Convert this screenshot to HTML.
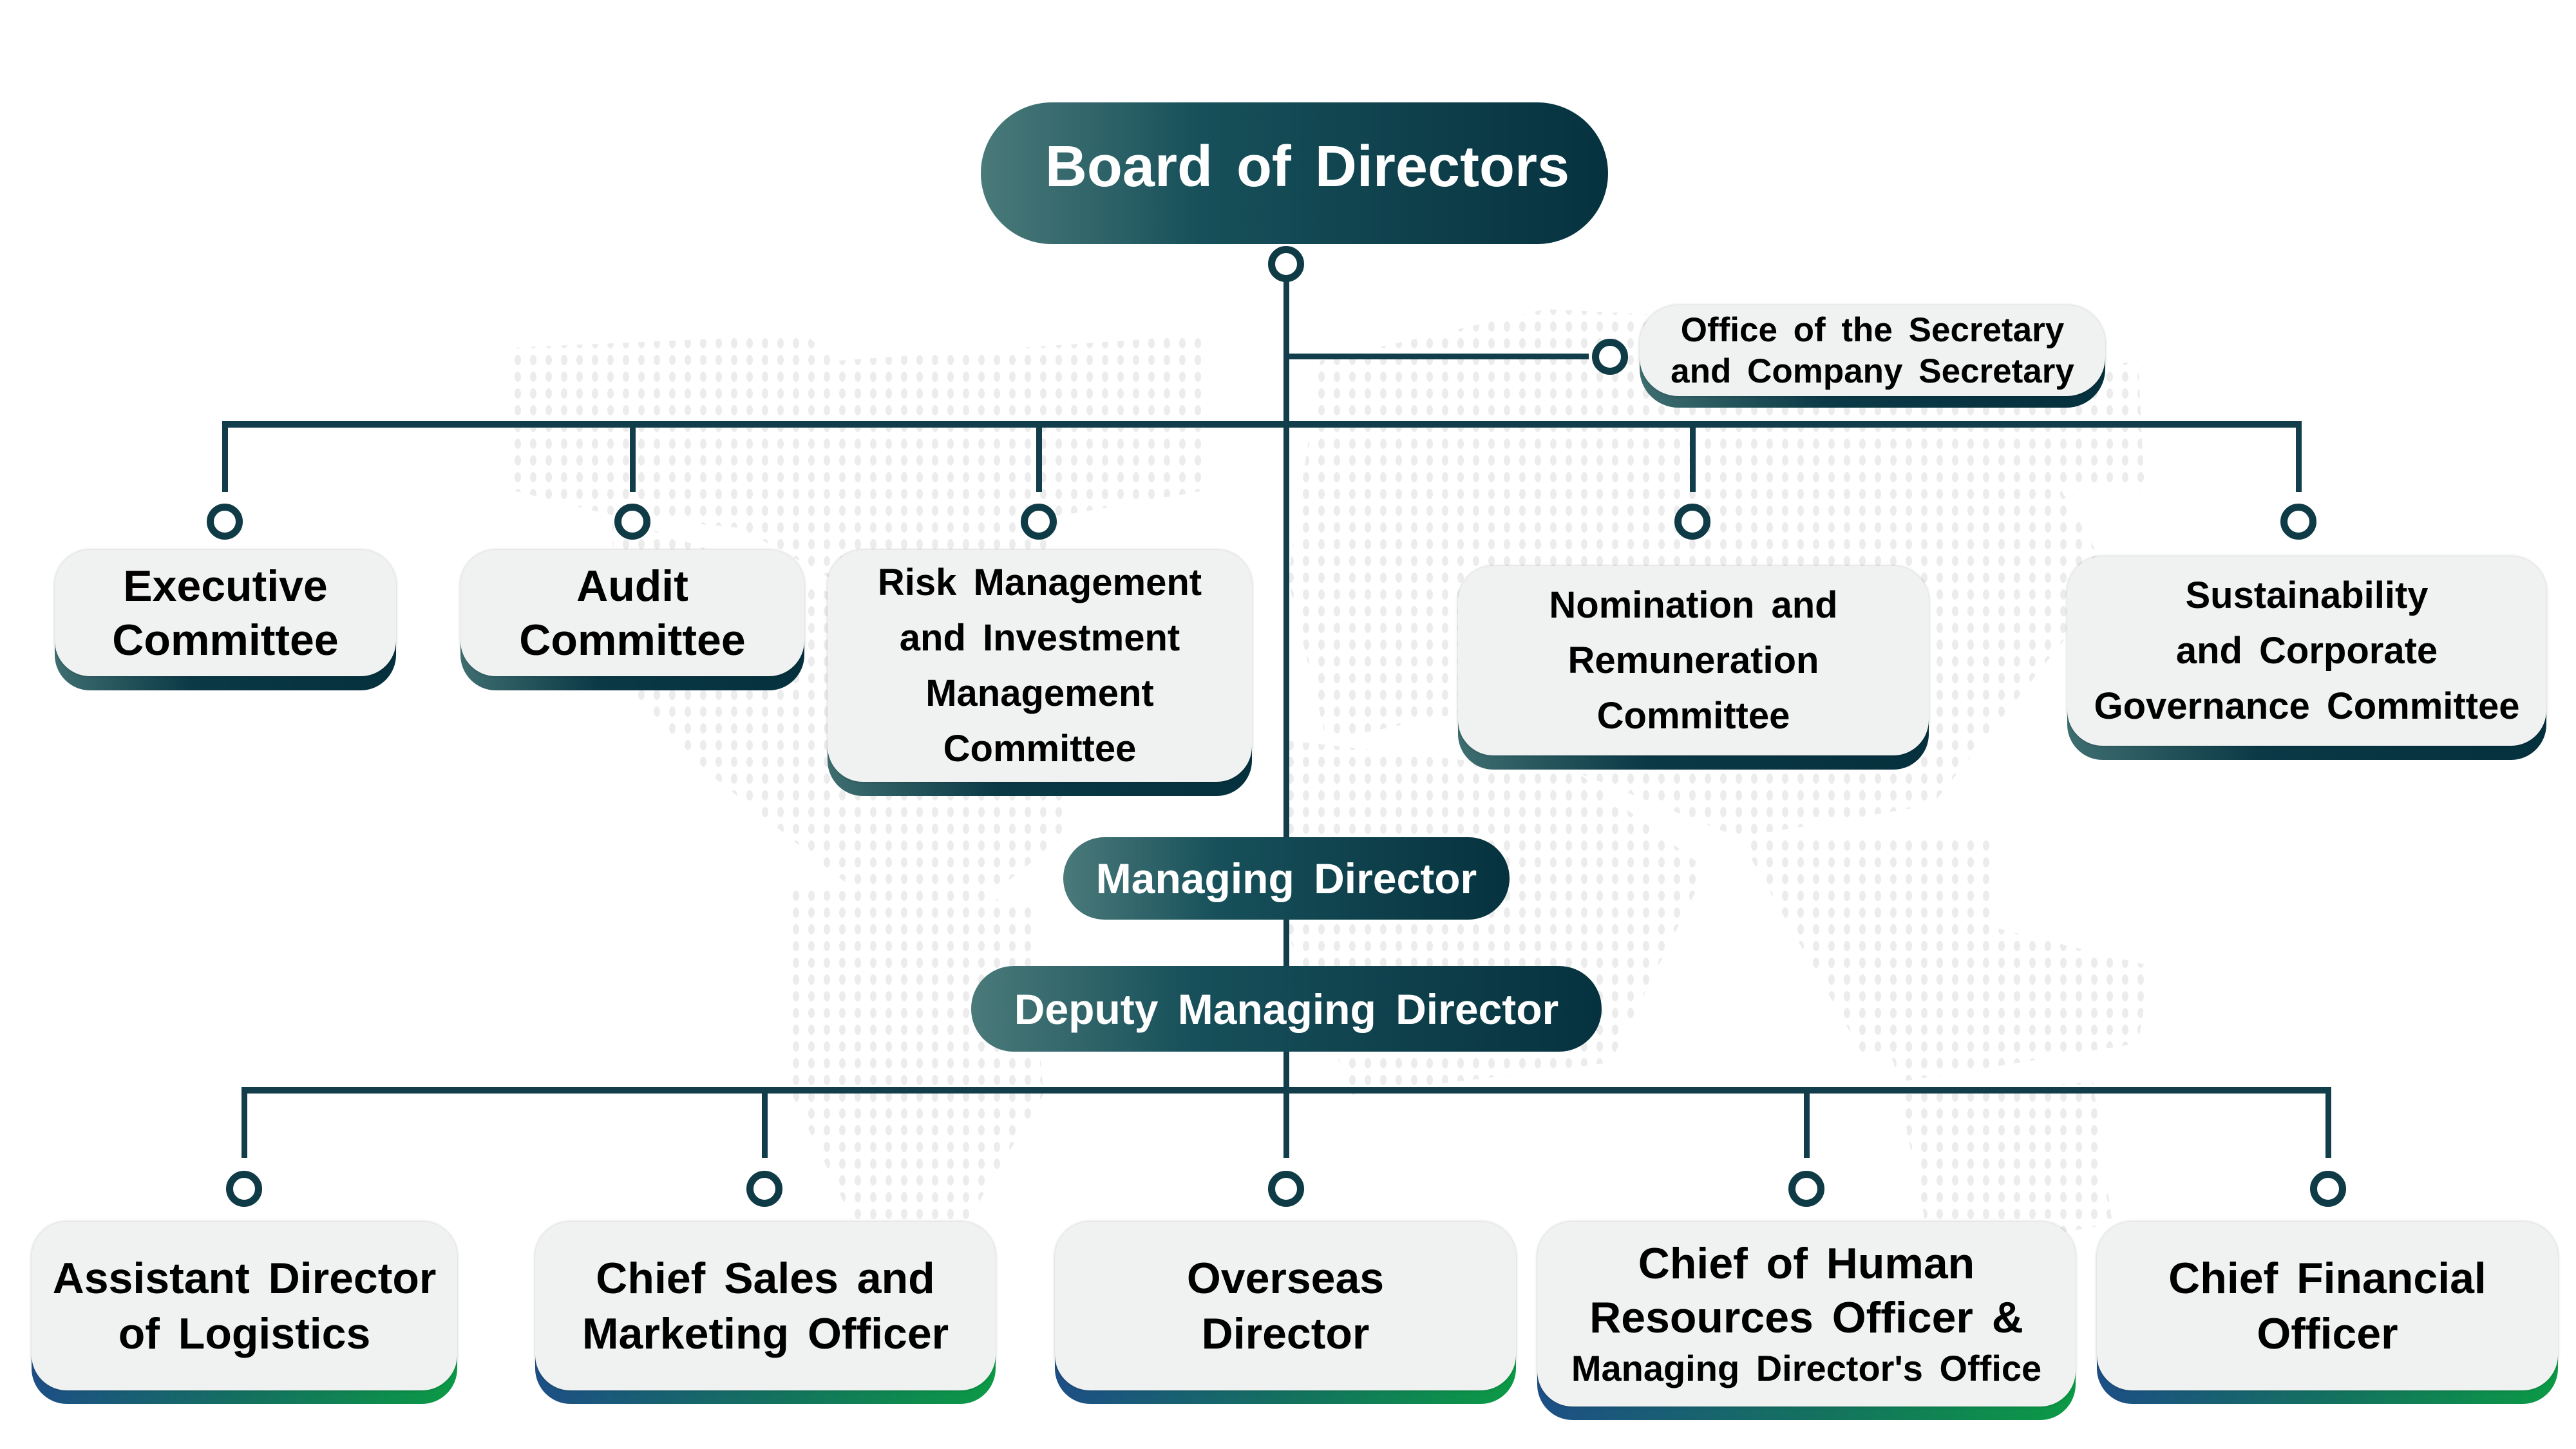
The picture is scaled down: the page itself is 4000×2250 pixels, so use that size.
<!DOCTYPE html>
<html><head><meta charset="utf-8"><style>
html,body{margin:0;padding:0}
body{width:4000px;height:2250px;position:relative;background:#fff;overflow:hidden;font-family:"Liberation Sans","DejaVu Sans",sans-serif;font-weight:bold}
.a{position:absolute}
.line{position:absolute;background:#113e4a}
.dot{position:absolute;width:34px;height:34px;border:11px solid #0f3b47;border-radius:50%;background:#fff;transform:translate(-50%,-50%)}
.sh{position:absolute;border-radius:55px}
.bx{position:absolute;border-radius:55px;background:#f0f2f1;box-shadow:0 0 4px rgba(0,0,0,.25);display:flex;align-items:center;justify-content:center;text-align:center;color:#000;word-spacing:10px}
.pill{position:absolute;display:flex;align-items:center;justify-content:center;color:#fff;background:linear-gradient(90deg,#4a7a7a 0%,#17505a 35%,#06323f 100%);word-spacing:12px}
.t{background:linear-gradient(90deg,#3e6e70,#0b3946 40%,#05303d)}
.b{background:linear-gradient(90deg,#1d4f86,#147060 50%,#0b9a45)}
</style></head><body>
<svg class="a" style="left:0;top:0" width="4000" height="2250">
<defs><pattern id="p" width="24" height="26" patternUnits="userSpaceOnUse"><ellipse cx="12" cy="13" rx="5" ry="8" fill="#ececec"/></pattern></defs>
<g fill="url(#p)">
<polygon points="790,540 1250,520 1300,560 1870,520 1880,760 1650,800 1600,900 1400,960 1150,820 950,800 790,760"/>
<polygon points="950,800 1400,960 1650,1100 1650,1300 1500,1420 1350,1400 1100,1200 960,1050"/>
<polygon points="1230,1380 1600,1400 1620,1700 1500,1900 1350,1950 1230,1700"/>
<polygon points="2050,560 2400,480 3200,520 3200,760 3280,900 3000,1250 2700,1300 2450,1200 2300,1100 2060,1150 2000,900"/>
<polygon points="2000,1150 2450,1200 2650,1350 2500,1650 2100,1700 2000,1450"/>
<polygon points="2700,1300 3100,1300 3080,1550 2900,1650"/>
<polygon points="2850,1380 3340,1500 3320,1620 2950,1680"/>
<polygon points="2950,1700 3250,1680 3280,1900 3000,1950"/>
<polygon points="3200,580 3320,560 3330,760 3200,760"/>
</g></svg>

<div class="line" style="left:1993px;top:430px;width:9px;height:1262px"></div>
<div class="line" style="left:1997px;top:549px;width:470px;height:9px"></div>
<div class="line" style="left:345px;top:654px;width:3228px;height:10px"></div>
<div class="line" style="left:345px;top:654px;width:9px;height:110px"></div>
<div class="line" style="left:978px;top:654px;width:9px;height:110px"></div>
<div class="line" style="left:1609px;top:654px;width:9px;height:110px"></div>
<div class="line" style="left:2624px;top:654px;width:9px;height:110px"></div>
<div class="line" style="left:3565px;top:654px;width:9px;height:110px"></div>
<div class="line" style="left:375px;top:1688px;width:3244px;height:10px"></div>
<div class="line" style="left:375px;top:1688px;width:9px;height:110px"></div>
<div class="line" style="left:1183px;top:1688px;width:9px;height:110px"></div>
<div class="line" style="left:1993px;top:1688px;width:9px;height:110px"></div>
<div class="line" style="left:2801px;top:1688px;width:9px;height:110px"></div>
<div class="line" style="left:3611px;top:1688px;width:9px;height:110px"></div>

<div class="dot" style="left:1997px;top:410px"></div>
<div class="dot" style="left:2500px;top:554px"></div>
<div class="dot" style="left:349px;top:810px"></div>
<div class="dot" style="left:982px;top:810px"></div>
<div class="dot" style="left:1613px;top:810px"></div>
<div class="dot" style="left:2628px;top:810px"></div>
<div class="dot" style="left:3569px;top:810px"></div>
<div class="dot" style="left:379px;top:1846px"></div>
<div class="dot" style="left:1187px;top:1846px"></div>
<div class="dot" style="left:1997px;top:1846px"></div>
<div class="dot" style="left:2805px;top:1846px"></div>
<div class="dot" style="left:3615px;top:1846px"></div>

<div class="pill" style="left:1523px;top:159px;width:974px;height:220px;border-radius:110px;font-size:90px;padding-left:40px;padding-bottom:20px;box-sizing:border-box">Board of Directors</div>

<div class="sh t" style="left:2546px;top:492px;width:723px;height:141px;border-radius:60px"></div>
<div class="bx" style="left:2546px;top:474px;width:723px;height:141px;border-radius:60px;font-size:53px;line-height:64px">Office of the Secretary<br>and Company Secretary</div>

<div class="sh t" style="left:85px;top:874px;width:530px;height:198px"></div>
<div class="bx" style="left:85px;top:854px;width:530px;height:196px;font-size:68px;line-height:84px">Executive<br>Committee</div>
<div class="sh t" style="left:715px;top:874px;width:534px;height:198px"></div>
<div class="bx" style="left:715px;top:854px;width:534px;height:196px;font-size:68px;line-height:84px">Audit<br>Committee</div>
<div class="sh t" style="left:1285px;top:874px;width:659px;height:362px"></div>
<div class="bx" style="left:1285px;top:854px;width:659px;height:360px;font-size:58px;line-height:86px">Risk Management<br>and Investment<br>Management<br>Committee</div>
<div class="sh t" style="left:2264px;top:899px;width:731px;height:296px"></div>
<div class="bx" style="left:2264px;top:879px;width:731px;height:294px;font-size:58px;line-height:86px">Nomination and<br>Remuneration<br>Committee</div>
<div class="sh t" style="left:3210px;top:884px;width:744px;height:296px"></div>
<div class="bx" style="left:3210px;top:864px;width:744px;height:294px;font-size:58px;line-height:86px">Sustainability<br>and Corporate<br>Governance Committee</div>

<div class="pill" style="left:1651px;top:1300px;width:693px;height:128px;border-radius:64px;font-size:66px">Managing Director</div>
<div class="pill" style="left:1508px;top:1500px;width:979px;height:133px;border-radius:66px;font-size:66px">Deputy Managing Director</div>

<div class="sh b" style="left:49px;top:1915px;width:661px;height:265px"></div>
<div class="bx" style="left:49px;top:1897px;width:661px;height:262px;font-size:68px;line-height:86px">Assistant Director<br>of Logistics</div>
<div class="sh b" style="left:831px;top:1915px;width:715px;height:265px"></div>
<div class="bx" style="left:831px;top:1897px;width:715px;height:262px;font-size:68px;line-height:86px">Chief Sales and<br>Marketing Officer</div>
<div class="sh b" style="left:1638px;top:1915px;width:716px;height:265px"></div>
<div class="bx" style="left:1638px;top:1897px;width:716px;height:262px;font-size:68px;line-height:86px">Overseas<br>Director</div>
<div class="sh b" style="left:2387px;top:1915px;width:836px;height:290px"></div>
<div class="bx" style="left:2387px;top:1897px;width:836px;height:287px;font-size:68px;line-height:84px;flex-direction:column">Chief of Human<br>Resources Officer &amp;<br><span style="font-size:56px;line-height:74px">Managing Director's Office</span></div>
<div class="sh b" style="left:3256px;top:1915px;width:716px;height:265px"></div>
<div class="bx" style="left:3256px;top:1897px;width:716px;height:262px;font-size:68px;line-height:86px">Chief Financial<br>Officer</div>
</body></html>
